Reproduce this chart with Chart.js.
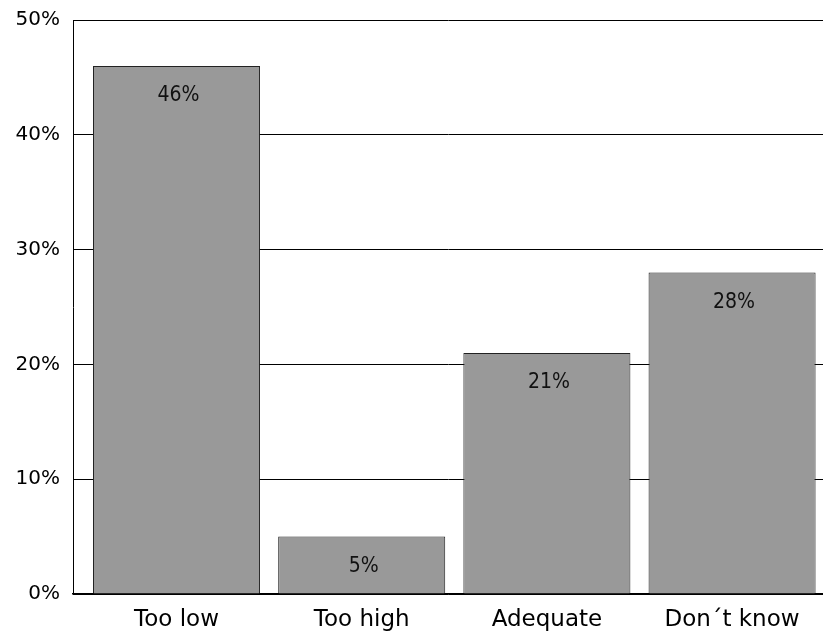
<!DOCTYPE html>
<html>
<head>
<meta charset="utf-8">
<script src="https://cdn.jsdelivr.net/npm/chart.js@4/dist/chart.umd.min.js"></script>
<style>
  html, body { margin: 0; padding: 0; background: #ffffff; }
  #wrap { width: 823px; height: 634px; position: relative; }
</style>
</head>
<body>
<div id="wrap"><canvas id="chart"></canvas></div>
<script>
// Answers to the question, share of respondents (%)
const categories = ['Too low', 'Too high', 'Adequate', 'Don\u00b4t know'];
const shares = [46, 5, 21, 28];
const yTicks = [0, 10, 20, 30, 40, 50];

const axisFont = '"DejaVu Sans", sans-serif';
const valueFont = '"Liberation Sans Narrow", "DejaVu Sans Condensed", sans-serif';

// Writes each bar's value just inside its top edge
const valueLabels = {
  id: 'valueLabels',
  afterDatasetsDraw(chart) {
    const ctx = chart.ctx;
    const meta = chart.getDatasetMeta(0);
    ctx.save();
    ctx.font = '21px ' + valueFont;
    ctx.fillStyle = '#111111';
    ctx.textAlign = 'center';
    ctx.textBaseline = 'middle';
    meta.data.forEach((bar, i) => {
      ctx.fillText(shares[i] + '%', bar.x + 2, bar.y + 30);
    });
    ctx.restore();
  }
};

new Chart(document.getElementById('chart'), {
  type: 'bar',
  data: {
    datasets: [{
      data: shares.map((v, i) => ({ x: i, y: v })),
      backgroundColor: '#999999',
      borderColor: '#222222',
      borderWidth: 1,
      borderSkipped: 'bottom',
      categoryPercentage: 1,
      barPercentage: 0.902
    }]
  },
  options: {
    responsive: true,
    maintainAspectRatio: false,
    animation: false,
    layout: { padding: { top: 20, right: 0, bottom: 0, left: 0 } },
    plugins: { legend: { display: false }, tooltip: { enabled: false } },
    scales: {
      x: {
        type: 'linear',
        offset: false,
        min: -0.559,
        max: 3.491,
        afterBuildTicks(scale) {
          scale.ticks = categories.map((_, i) => ({ value: i }));
        },
        afterFit(scale) {
          scale.height = 40;
          scale.paddingLeft = 0;
          scale.paddingRight = 0;
        },
        grid: { display: false, drawTicks: false, offset: false },
        border: { display: true, color: '#000000', width: 1.5 },
        ticks: {
          autoSkip: false,
          maxRotation: 0,
          padding: 12,
          color: '#000000',
          font: { family: axisFont, size: 23 },
          callback: (v) => categories[v]
        }
      },
      y: {
        min: 0,
        max: 50,
        afterBuildTicks(scale) {
          scale.ticks = yTicks.map(v => ({ value: v }));
        },
        afterFit(scale) {
          scale.width = 73;
          scale.paddingTop = 0;
          scale.paddingBottom = 0;
        },
        grid: { color: '#000000', lineWidth: 1, drawTicks: false },
        border: { display: true, color: '#000000', width: 1 },
        ticks: {
          padding: 13,
          color: '#000000',
          font: { family: axisFont, size: 20 },
          callback: (v) => v + '%'
        }
      }
    }
  },
  plugins: [valueLabels]
});
</script>
</body>
</html>
